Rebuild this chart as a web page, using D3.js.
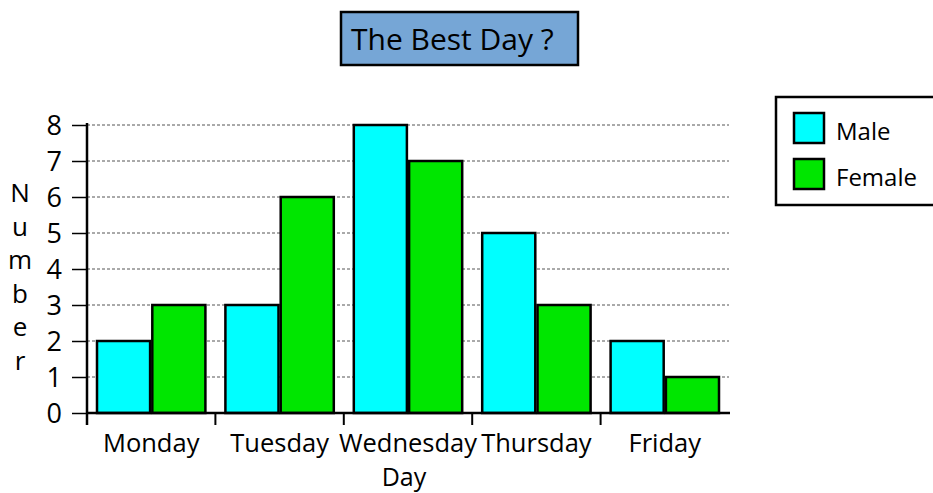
<!DOCTYPE html>
<html><head><meta charset="utf-8">
<script src="https://cdn.jsdelivr.net/npm/d3@7"></script>
<style>
body{margin:0;background:#fff;}
svg{display:block;font-family:"Open Sans",sans-serif;}
</style></head>
<body><svg id="c" width="933" height="493"></svg>
<script>
const days = ["Monday","Tuesday","Wednesday","Thursday","Friday"];
const seriesNames = ["Male","Female"];
const male = [2,3,8,5,2];
const female = [3,6,7,3,1];
const yTicks = [0,1,2,3,4,5,6,7,8];
const colors = ["#00ffff","#00e600"];
const title = "The Best Day ?";
const xTitle = "Day";
const yTitle = "Number";

const svg = d3.select("#c");
const L=87, R=729, T=125, B=413;
const x = d3.scaleBand().domain(days).range([L,R]).paddingInner(0).paddingOuter(0);
const y = d3.scaleLinear().domain([0,8]).range([B,T]);
const values = [male,female];

// gridlines
svg.append("g").selectAll("line").data(yTicks.filter(d=>d>0)).join("line")
  .attr("x1",L).attr("x2",R).attr("y1",d=>y(d)).attr("y2",d=>y(d))
  .attr("stroke","#555").attr("stroke-width",1).attr("stroke-dasharray","3,2");

// bars
const inner = d3.scaleBand().domain(seriesNames).range([10, x.bandwidth()-10]).paddingInner(0.04);
days.forEach((d,i)=>{
  seriesNames.forEach((s,j)=>{
    const v = values[j][i];
    svg.append("rect")
      .attr("x", x(d)+inner(s)).attr("width", inner.bandwidth())
      .attr("y", y(v)).attr("height", y(0)-y(v))
      .attr("fill", colors[j]).attr("stroke","#000").attr("stroke-width",2.5);
  });
});

// y axis
const ya = svg.append("g").attr("transform",`translate(${L},0)`)
  .call(d3.axisLeft(y).tickValues(yTicks).tickSize(15).tickPadding(10).tickFormat(d3.format("d")));
ya.select(".domain").remove();
ya.selectAll(".tick line").attr("stroke","#000").attr("stroke-width",1.5);
ya.selectAll(".tick text").attr("font-size",27).attr("font-family","Open Sans").attr("fill","#000").attr("dy","0.35em");
svg.append("line").attr("x1",L).attr("x2",L).attr("y1",T-2).attr("y2",B+12).attr("stroke","#000").attr("stroke-width",2.5);

// x axis
svg.append("line").attr("x1",L).attr("x2",R+1).attr("y1",B).attr("y2",B).attr("stroke","#000").attr("stroke-width",2.5);
svg.append("g").selectAll("line").data(days.slice(1)).join("line")
  .attr("x1",d=>x(d)).attr("x2",d=>x(d)).attr("y1",B).attr("y2",B+12)
  .attr("stroke","#000").attr("stroke-width",2);
svg.append("g").selectAll("text").data(days).join("text")
  .attr("x",d=>x(d)+x.bandwidth()/2).attr("y",452)
  .attr("text-anchor","middle").attr("font-size",25.5).text(d=>d);

// axis titles
svg.append("text").attr("x",404).attr("y",486).attr("text-anchor","middle").attr("font-size",25).text(xTitle);
svg.append("g").selectAll("text").data(yTitle.split("")).join("text")
  .attr("x",20).attr("y",(d,i)=>202+i*33.6).attr("text-anchor","middle").attr("font-size",26).text(d=>d);

// title
svg.append("rect").attr("x",341).attr("y",12).attr("width",237).attr("height",53)
  .attr("fill","#76a6d6").attr("stroke","#000").attr("stroke-width",2.5);
svg.append("text").attr("x",351).attr("y",50).attr("font-size",30).text(title);

// legend
svg.append("rect").attr("x",776).attr("y",97).attr("width",170).attr("height",108)
  .attr("fill","#fff").attr("stroke","#000").attr("stroke-width",2.5);
seriesNames.forEach((s,j)=>{
  svg.append("rect").attr("x",794).attr("y",113+j*46).attr("width",30).attr("height",30)
    .attr("fill",colors[j]).attr("stroke","#000").attr("stroke-width",2.5);
  svg.append("text").attr("x",836).attr("y",140+j*46).attr("font-size",24).text(s);
});
</script></body></html>
